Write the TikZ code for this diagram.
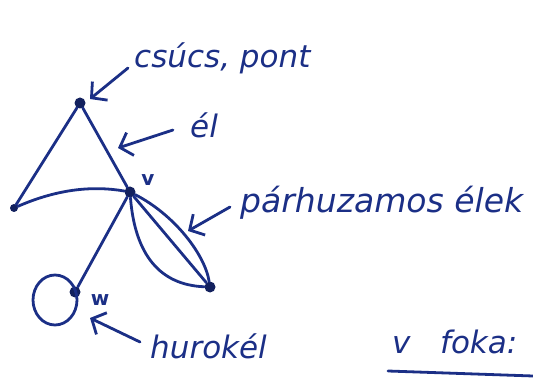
\documentclass[tikz,border=0pt]{standalone}
\usepackage{fontspec}
\setmainfont{DejaVu Sans}
\usetikzlibrary{arrows.meta}
\definecolor{ink}{HTML}{1B2F86}
\begin{document}
\begin{tikzpicture}[x=1pt,y=-1pt,
  ink/.style={draw=ink,line width=2.8pt,line cap=round,line join=round},
  vtx/.style={circle,fill=ink!70!black,inner sep=0pt,minimum size=11pt},
  lbl/.style={text=ink,font=\fontsize{31}{34}\selectfont\itshape,anchor=west,inner sep=0pt},
  small/.style={text=ink,font=\fontsize{20}{22}\selectfont\bfseries,inner sep=0pt},
  pointer/.style={ink,-{Straight Barb[length=11pt,width=24pt,line width=2.8pt]}}]
\useasboundingbox (0,0) rectangle (533,382);
% vertices
\node[vtx] (A) at (80,103) {};
\node[vtx,minimum size=8pt] (L) at (14,208) {};
\node[vtx] (V) at (130,192) {};
\node[vtx] (B) at (210,287) {};
\node[vtx] (W) at (75,292) {};
\node[small] (vl) at (148,180) {v};
\node[small] (wl) at (100,300) {w};
% edges
\draw[ink] (A) -- (L);
\draw[ink] (A) -- (V);
\draw[ink] (L) .. controls (60,188) and (95,186) .. (V);
\draw[ink] (V) -- (W);
\draw[ink] (V) .. controls (135,255) and (160,285) .. (B);
\draw[ink] (V) -- (B);
\draw[ink] (V) .. controls (175,215) and (205,255) .. (B);
% loop
\draw[ink] (55,300) circle[x radius=22pt,y radius=25pt];
% labels and pointers
\node[lbl] (t1) at (134,58) {csúcs, pont};
\coordinate (p1) at (128,68);
\draw[pointer] (p1) -- (90,99);
\node[lbl] (t2) at (190,125) {él};
\coordinate (p2) at (173,130);
\draw[pointer] (p2) -- (118,148);
\node[lbl,font=\fontsize{33}{36}\selectfont\itshape] (t3) at (240,203) {párhuzamos élek};
\coordinate (p3) at (230,207);
\draw[pointer] (p3) -- (188,231);
\node[lbl] (t4) at (150,346) {hurokél};
\coordinate (p4) at (140,342);
\draw[pointer] (p4) -- (90,318);
\node[lbl] (t5) at (392,342) {v\ \ \ foka:};
\coordinate (u1) at (388,371);
\coordinate (u2) at (533,376);
\draw[ink] (u1) -- (u2);
\end{tikzpicture}
\end{document}
